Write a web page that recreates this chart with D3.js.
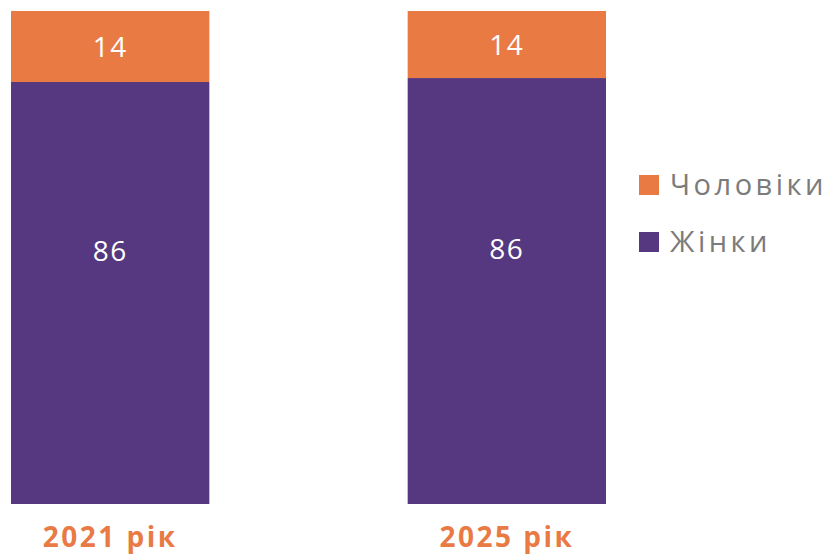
<!DOCTYPE html>
<html>
<head>
<meta charset="utf-8">
<script src="https://cdn.jsdelivr.net/npm/d3@7"></script>
<style>
  html, body { margin: 0; padding: 0; background: #ffffff; }
  svg { display: block; font-family: "Open Sans", "DejaVu Sans", sans-serif; }
</style>
</head>
<body>
<svg id="chart" width="827" height="556"></svg>
<script>
// Gender split of respondents, percent
const years = ["2021 рік", "2025 рік"];
const men = [14.4, 13.6];
const women = [85.6, 86.4];
const seriesNames = ["Чоловіки", "Жінки"];
const seriesColors = ["#E97A44", "#55387F"];
// Where inside each segment its value label sits (0 = bottom, 1 = top)
const labelAnchor = { "Чоловіки": 0.5, "Жінки": 0.6 };

const rows = years.map((y, i) => ({ year: y, "Чоловіки": men[i], "Жінки": women[i] }));

// Women at the bottom, men on top
const stack = d3.stack().keys(["Жінки", "Чоловіки"]);
const layers = stack(rows);

const svg = d3.select("#chart");

const x = d3.scaleBand().domain(years).range([11, 606]).paddingInner(0.5).paddingOuter(0);
const y = d3.scaleLinear().domain([0, 100]).range([504, 11]);
const color = d3.scaleOrdinal().domain(seriesNames).range(seriesColors);
const fmt = d3.format(".0f");

const g = svg.append("g");

layers.forEach(layer => {
  const lg = g.append("g").attr("fill", color(layer.key));
  lg.selectAll("rect")
    .data(layer)
    .join("rect")
    .attr("x", d => x(d.data.year))
    .attr("width", x.bandwidth())
    .attr("y", d => y(d[1]))
    .attr("height", d => y(d[0]) - y(d[1]));

  const a = labelAnchor[layer.key];
  g.append("g").selectAll("text")
    .data(layer)
    .join("text")
    .attr("x", d => x(d.data.year) + x.bandwidth() / 2)
    .attr("y", d => y(d[0] + (d[1] - d[0]) * a))
    .attr("dy", "0.36em")
    .attr("text-anchor", "middle")
    .attr("fill", "#ffffff")
    .attr("font-size", 28)
    .attr("letter-spacing", 1.5)
    .text(d => fmt(d[1] - d[0]));
});

// Category labels under the bars
const xAxis = d3.axisBottom(x).tickSize(0).tickPadding(0);
const axisG = svg.append("g").attr("transform", "translate(0,504)").call(xAxis);
axisG.select(".domain").remove();
axisG.selectAll("text")
  .attr("y", 43)
  .attr("dy", 0)
  .attr("fill", "#E97A44")
  .attr("font-size", 28)
  .attr("font-weight", 700)
  .attr("letter-spacing", 2.5)
  .attr("font-family", "\"Open Sans\", sans-serif");

// Legend
const legendItems = ["Чоловіки", "Жінки"];
const legend = svg.append("g").attr("transform", "translate(639,175)");
const li = legend.selectAll("g")
  .data(legendItems)
  .join("g")
  .attr("transform", (d, i) => `translate(0,${i * 57})`);
li.append("rect")
  .attr("width", 20)
  .attr("height", 20)
  .attr("fill", d => color(d));
li.append("text")
  .attr("x", 31)
  .attr("y", 10)
  .attr("dy", "0.36em")
  .attr("fill", "#7b7b7b")
  .attr("font-size", 29)
  .attr("letter-spacing", 3.5)
  .text(d => d);
</script>
</body>
</html>
